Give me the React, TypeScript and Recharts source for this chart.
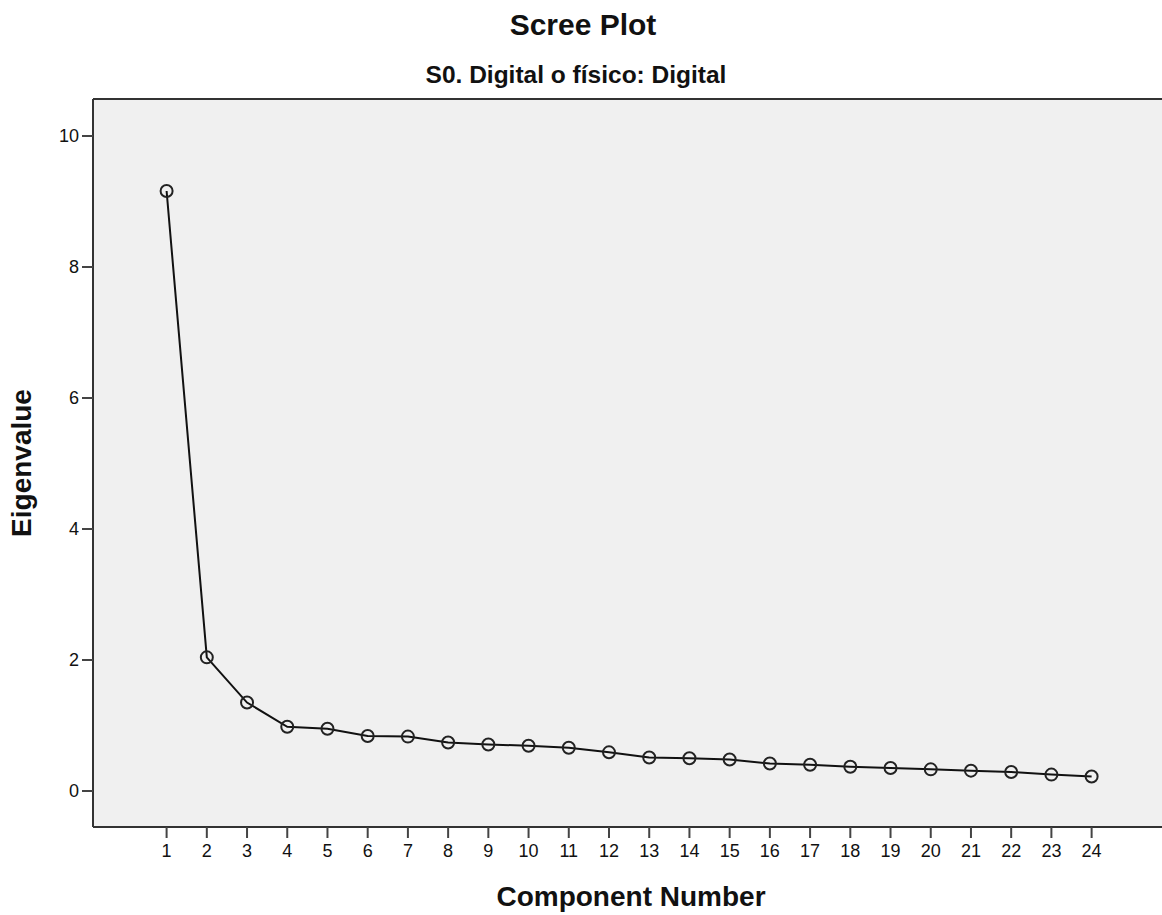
import React from 'react';
import { LineChart, Line, XAxis, YAxis, CartesianGrid, ReferenceLine } from 'recharts';

const components = [1, 2, 3, 4, 5, 6, 7, 8, 9, 10, 11, 12, 13, 14, 15, 16, 17, 18, 19, 20, 21, 22, 23, 24];
const eigenvalues = [9.16, 2.04, 1.35, 0.98, 0.95, 0.84, 0.83, 0.74, 0.71, 0.69, 0.66, 0.59, 0.51, 0.5, 0.48, 0.42, 0.4, 0.37, 0.35, 0.33, 0.31, 0.29, 0.25, 0.22];
const yTicks = [0, 2, 4, 6, 8, 10];
const title = 'Scree Plot';
const subtitle = 'S0. Digital o físico: Digital';
const xTitle = 'Component Number';
const yTitle = 'Eigenvalue';

const data = components.map((c, i) => ({ component: c, value: eigenvalues[i] }));

const Y_MIN = -0.55;
const Y_MAX = 10.565;
const FONT = 'Arial, "Liberation Sans", Helvetica, sans-serif';

export default function App() {
  return (
    <div style={{ position: 'absolute', left: 0, top: 0, width: 1162, height: 915, background: '#fff', fontFamily: FONT }}>
      <LineChart
        width={1162}
        height={915}
        data={data}
        margin={{ top: 99, right: 0, bottom: 0, left: 0 }}
      >
        <CartesianGrid fill="#f0f0f0" horizontal={false} vertical={false} stroke="none" />
        <XAxis
          dataKey="component"
          type="number"
          domain={[-0.83, 25.75]}
          ticks={components}
          interval={0}
          height={88}
          tickSize={11}
          tickMargin={6}
          axisLine={{ stroke: '#333', strokeWidth: 2 }}
          tickLine={{ stroke: '#444', strokeWidth: 2 }}
          tick={{ fill: '#111', fontSize: 18, fontFamily: FONT }}
          allowDataOverflow
        />
        <YAxis
          type="number"
          domain={[Y_MIN, Y_MAX]}
          ticks={yTicks}
          width={93}
          tickSize={11}
          tickMargin={3}
          axisLine={{ stroke: '#333', strokeWidth: 2 }}
          tickLine={{ stroke: '#444', strokeWidth: 2 }}
          tick={{ fill: '#111', fontSize: 18, fontFamily: FONT }}
          allowDataOverflow
        />
        <ReferenceLine y={Y_MAX} stroke="#333" strokeWidth={2} />
        <Line
          type="linear"
          dataKey="value"
          stroke="#111"
          strokeWidth={2}
          dot={{ r: 6, stroke: '#222', strokeWidth: 2, fill: 'none' }}
          activeDot={false}
          isAnimationActive={false}
        />
      </LineChart>
      <div style={{ position: 'absolute', left: 0, width: 1162, top: 7, textAlign: 'center', paddingLeft: 2, fontWeight: 'bold', fontSize: 30, color: '#111', lineHeight: '36px' }}>
        {title}
      </div>
      <div style={{ position: 'absolute', left: 0, width: 1152, top: 61, textAlign: 'center', fontWeight: 'bold', fontSize: 24.5, color: '#111', lineHeight: '28px' }}>
        {subtitle}
      </div>
      <div style={{ position: 'absolute', left: 0, width: 1262, top: 881, textAlign: 'center', fontWeight: 'bold', fontSize: 28, color: '#111', lineHeight: '32px' }}>
        {xTitle}
      </div>
      <div style={{ position: 'absolute', left: 22, top: 463, width: 300, height: 32, marginLeft: -150, marginTop: -16, transform: 'rotate(-90deg)', textAlign: 'center', fontWeight: 'bold', fontSize: 28, color: '#111', lineHeight: '32px' }}>
        {yTitle}
      </div>
    </div>
  );
}
